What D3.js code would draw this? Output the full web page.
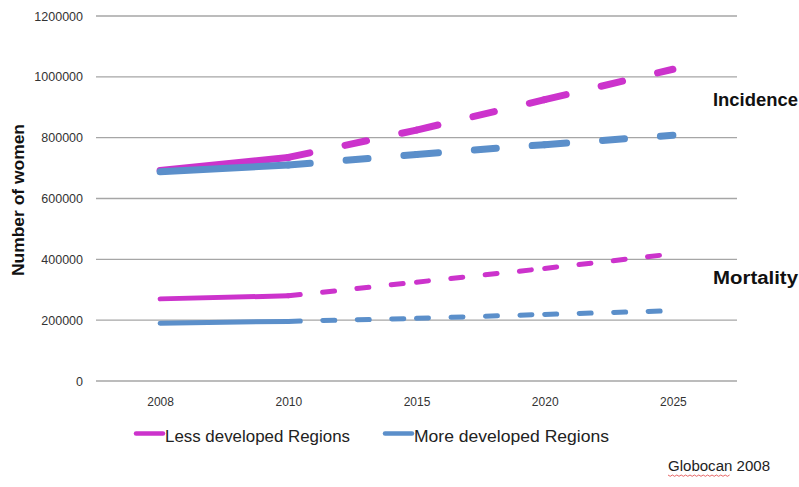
<!DOCTYPE html>
<html>
<head>
<meta charset="utf-8">
<script src="https://cdn.jsdelivr.net/npm/d3@7"></script>
<style>
  html, body { margin: 0; padding: 0; background: #fff; }
  svg { display: block; }
</style>
</head>
<body>
<svg id="chart" width="799" height="487"></svg>
<script>
// Cervical cancer burden among women, observed 2008 and projected to 2025
const years = ["2008", "2010", "2015", "2020", "2025"];
const incidenceLess = [692000, 735000, 825000, 925000, 1025000];
const incidenceMore = [688000, 710000, 745000, 777000, 808000];
const mortalityLess = [270000, 280000, 325000, 370000, 418000];
const mortalityMore = [190000, 196000, 206000, 219000, 231000];
const yTicks = [0, 200000, 400000, 600000, 800000, 1000000, 1200000];
const seriesNames = ["Less developed Regions", "More developed Regions"];

const pink = "#cc33cc";
const blue = "#5b8fca";
const font = "'Liberation Sans', Arial, sans-serif";

const svg = d3.select("#chart");

const x = d3.scalePoint().domain(years).range([96, 737]).padding(0.5);
const y = d3.scaleLinear().domain([0, 1200000]).range([381, 16]);

// horizontal gridlines (the zero line doubles as the baseline)
svg.append("g")
  .selectAll("line")
  .data(yTicks)
  .join("line")
  .attr("x1", 96).attr("x2", 737)
  .attr("y1", d => y(d)).attr("y2", d => y(d))
  .attr("stroke", "#a6a6a6")
  .attr("stroke-width", 1.3);

// y axis labels
const yAxis = d3.axisLeft(y).tickValues(yTicks).tickSize(0).tickPadding(0)
  .tickFormat(d3.format("d"));
svg.append("g")
  .attr("transform", "translate(83,0)")
  .call(yAxis)
  .call(g => g.select(".domain").remove())
  .selectAll("text")
  .attr("font-family", font)
  .attr("font-size", 12.5)
  .attr("fill", "#333");

// x axis labels
const xAxis = d3.axisBottom(x).tickSize(0).tickPadding(0);
svg.append("g")
  .attr("transform", "translate(0,397)")
  .call(xAxis)
  .call(g => g.select(".domain").remove())
  .selectAll("text")
  .attr("font-family", font)
  .attr("font-size", 12)
  .attr("fill", "#333");

// y axis title
svg.append("text")
  .attr("transform", "translate(24,200) rotate(-90)")
  .attr("text-anchor", "middle")
  .attr("font-family", font)
  .attr("font-weight", "bold")
  .attr("font-size", 16)
  .attr("textLength", 152)
  .attr("lengthAdjust", "spacingAndGlyphs")
  .attr("fill", "#111")
  .text("Number of women");

// each series: solid for the observed interval, dashed for every projected interval
const line = d3.line().x(d => x(d.year)).y(d => y(d.value));

function drawSeries(values, color, width, dash) {
  const pts = years.map((yr, i) => ({ year: yr, value: values[i] }));
  const g = svg.append("g");
  g.append("path")
    .attr("d", line(pts.slice(0, 2)))
    .attr("fill", "none")
    .attr("stroke", color)
    .attr("stroke-width", width)
    .attr("stroke-linecap", "round");
  for (let i = 1; i < pts.length - 1; i++) {
    g.append("path")
      .attr("d", line(pts.slice(i, i + 2)))
      .attr("fill", "none")
      .attr("stroke", color)
      .attr("stroke-width", width)
      .attr("stroke-linecap", "round")
      .attr("stroke-dasharray", dash);
  }
}

drawSeries(incidenceLess, pink, 7, "22,36");
drawSeries(incidenceMore, blue, 7, "22,36");
drawSeries(mortalityLess, pink, 5, "12,22.5");
drawSeries(mortalityMore, blue, 5, "12,22.5");

// group labels
[["Incidence", 106], ["Mortality", 284]].forEach(([label, yy]) => {
  svg.append("text")
    .attr("x", 713).attr("y", yy)
    .attr("font-family", font).attr("font-weight", "bold")
    .attr("font-size", 17.5)
    .attr("textLength", 85)
    .attr("lengthAdjust", "spacingAndGlyphs")
    .attr("fill", "#111")
    .text(label);
});

// legend
const legend = svg.append("g");
const legendItems = [
  { name: seriesNames[0], color: pink, x: 135, w: 185 },
  { name: seriesNames[1], color: blue, x: 384, w: 195 }
];
legendItems.forEach(it => {
  legend.append("line")
    .attr("x1", it.x + 1).attr("x2", it.x + 28)
    .attr("y1", 433.5).attr("y2", 433.5)
    .attr("stroke", it.color).attr("stroke-width", 4.5)
    .attr("stroke-linecap", "round");
  legend.append("text")
    .attr("x", it.x + 30).attr("y", 442)
    .attr("font-family", font)
    .attr("font-size", 16.5)
    .attr("textLength", it.w)
    .attr("lengthAdjust", "spacingAndGlyphs")
    .attr("fill", "#222")
    .text(it.name);
});

// source note
svg.append("text")
  .attr("x", 668).attr("y", 471)
  .attr("font-family", font)
  .attr("font-size", 14)
  .attr("textLength", 102)
  .attr("lengthAdjust", "spacingAndGlyphs")
  .attr("fill", "#222")
  .text("Globocan 2008");

// spell-check squiggle under the source name
const squiggle = d3.range(0, 29).map(i => [668 + i * 2.2, 475 + (i % 2 ? 1.3 : 0)]);
svg.append("path")
  .attr("d", d3.line()(squiggle))
  .attr("fill", "none")
  .attr("stroke", "#e04040")
  .attr("stroke-width", 0.8);
</script>
</body>
</html>
